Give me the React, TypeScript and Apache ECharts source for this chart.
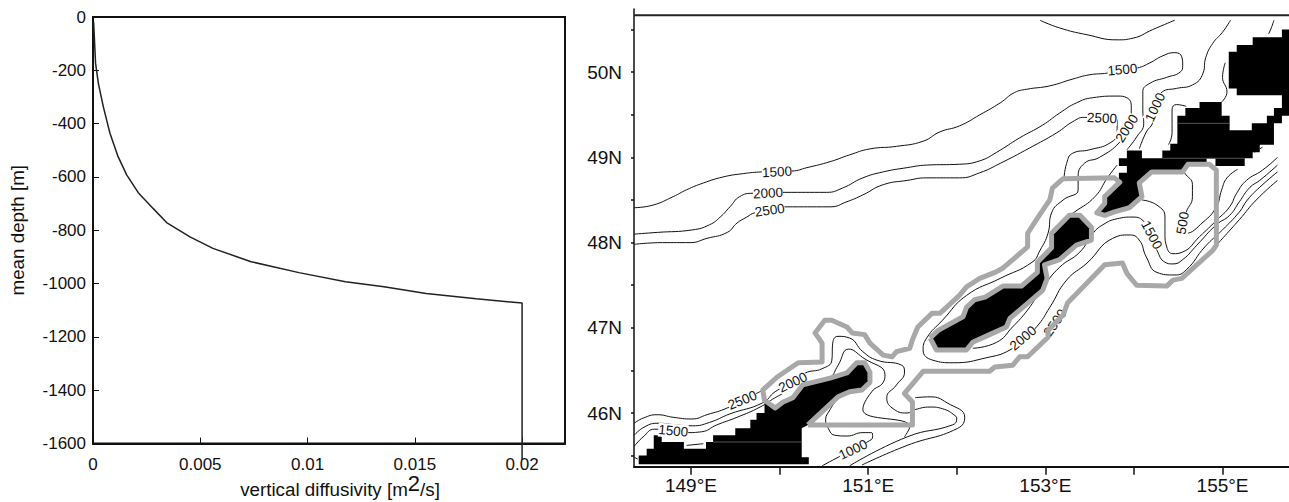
import React, { useEffect, useRef } from "react";
import * as echarts from "echarts";

type P = [number, number];

// Left panel: vertical diffusivity profile [diffusivity, depth]
const diffusivityProfile: P[] = [
  [0.00003, -20], [0.00012, -174], [0.00025, -249], [0.00048, -336], [0.00079, -436], [0.00117, -524],
  [0.00157, -592], [0.00211, -659], [0.0028, -718], [0.00343, -771], [0.00452, -825], [0.00559, -868],
  [0.00737, -918], [0.0096, -959], [0.01177, -993], [0.01356, -1012], [0.01553, -1037], [0.01786, -1057],
  [0.02, -1073], [0.02, -1600], [0.02, -1662],
];
const diffusivityTicks = [0, 0.005, 0.01, 0.015, 0.02];
const depthTicks = [0, -200, -400, -600, -800, -1000, -1200, -1400, -1600];

// Right panel: bathymetric contours [lon, lat]
const contourNorth1500: P[] = [
  [148.36, 48.41], [148.57, 48.44], [148.8, 48.54], [148.95, 48.62], [149.14, 48.7], [149.36, 48.77], [149.59, 48.81],
  [149.8, 48.83], [150.14, 48.84], [150.31, 48.88], [150.57, 48.95], [150.79, 49.03], [151.02, 49.1], [151.32, 49.13],
  [151.62, 49.19], [151.81, 49.3], [152.03, 49.37], [152.26, 49.5], [152.49, 49.64], [152.65, 49.76], [152.79, 49.8],
  [153.05, 49.84], [153.31, 49.92], [153.5, 49.97], [153.7, 49.99], [153.87, 50.03], [154.04, 50.05], [154.18, 50.11],
  [154.32, 50.19], [154.46, 50.23], [154.54, 50.18], [154.55, 50.08], [154.52, 50.0], [154.37, 49.94], [154.18, 49.87],
  [154.1, 49.77], [154.1, 49.56], [154.11, 49.4], [154.03, 49.24], [153.92, 49.09],
];
const contourNeck: P[] = [[153.81, 48.91], [153.7, 48.76], [153.56, 48.54], [153.33, 48.36], [153.25, 48.31]];
const contour2000: P[] = [
  [148.36, 48.1], [148.62, 48.12], [149.02, 48.15], [149.21, 48.21], [149.33, 48.3], [149.44, 48.42], [149.55, 48.54],
  [149.7, 48.58], [150.06, 48.59], [150.53, 48.59], [150.71, 48.64], [150.94, 48.76], [151.17, 48.83], [151.44, 48.88],
  [151.66, 48.91], [152.03, 48.92], [152.26, 48.96], [152.45, 49.06], [152.71, 49.23], [152.97, 49.38], [153.16, 49.52],
  [153.35, 49.64], [153.53, 49.7], [153.81, 49.72], [153.92, 49.7], [153.97, 49.59], [153.93, 49.35], [153.84, 49.18],
  [153.61, 49.0], [153.44, 48.93], [153.37, 48.77], [153.37, 48.62], [153.2, 48.5], [153.07, 48.35], [153.03, 48.11],
  [152.94, 47.91], [152.85, 47.77], [152.49, 47.58], [152.11, 47.38], [151.84, 47.09], [151.66, 46.88], [151.62, 46.74],
  [151.73, 46.62], [151.96, 46.59], [152.34, 46.65], [152.6, 46.74], [152.75, 46.88], [152.9, 47.01], [153.05, 47.24],
  [153.24, 47.56], [153.47, 47.76], [153.76, 48.05], [153.95, 48.09], [154.06, 48.03], [154.14, 47.83], [154.26, 47.65],
  [154.46, 47.62], [154.59, 47.68], [154.8, 47.95], [155.0, 48.15], [155.19, 48.36], [155.28, 48.5], [155.42, 48.65],
  [155.62, 48.83],
];
const contour2500: P[] = [
  [148.36, 47.98], [148.68, 48.0], [148.99, 48.0], [149.18, 48.05], [149.41, 48.12], [149.52, 48.23], [149.63, 48.3],
  [149.72, 48.35], [150.06, 48.42], [150.57, 48.42], [150.76, 48.48], [150.94, 48.56], [151.17, 48.68], [151.44, 48.73],
  [151.66, 48.76], [152.03, 48.76], [152.26, 48.82], [152.49, 48.93], [152.82, 49.11], [153.13, 49.29], [153.31, 49.42],
  [153.44, 49.47], [153.81, 49.44], [153.81, 49.29], [153.73, 49.17], [153.5, 49.09], [153.31, 49.05], [153.24, 48.93],
  [153.21, 48.73],
];
const contourEast2500: P[] = [[155.62, 48.73], [155.38, 48.5], [155.19, 48.27], [154.93, 47.97]];
const contourEast1500: P[] = [
  [155.62, 48.91], [155.42, 48.73], [155.31, 48.65], [155.19, 48.48], [155.08, 48.32], [154.93, 48.21], [154.71, 47.97],
  [154.55, 47.8], [154.44, 47.75], [154.35, 47.77], [154.26, 47.91], [154.2, 48.09], [154.12, 48.24], [153.99, 48.3],
  [153.81, 48.28], [153.65, 48.21], [153.53, 48.1], [153.39, 47.89], [153.16, 47.71], [152.97, 47.47], [152.8, 47.21],
  [152.63, 47.01], [152.45, 46.83], [152.18, 46.76],
];
const contourEast1000: P[] = [
  [155.62, 49.0], [155.45, 48.85], [155.27, 48.73], [155.16, 48.58], [155.08, 48.42], [154.94, 48.27], [154.74, 48.07],
  [154.55, 47.89], [154.44, 47.87], [154.37, 47.95], [154.35, 48.11], [154.35, 48.3], [154.26, 48.44], [154.09, 48.5],
];
const contour500: P[] = [
  [154.52, 48.91], [154.57, 48.82], [154.66, 48.68], [154.66, 48.54], [154.59, 48.36], [154.55, 48.23], [154.59, 48.11],
  [154.78, 48.24], [154.93, 48.42], [154.99, 48.62], [155.05, 48.76], [155.17, 48.86],
];
const contourNorth1000: P[] = [
  [155.09, 50.61], [155.0, 50.47], [154.89, 50.34], [154.81, 50.17], [154.78, 49.99], [154.66, 49.85], [154.48, 49.81],
  [154.32, 49.77], [154.26, 49.59], [154.21, 49.4], [154.14, 49.3], [154.06, 49.1],
];
const contourTopArc: P[] = [[152.94, 50.61], [153.16, 50.52], [153.47, 50.44], [153.81, 50.38], [153.99, 50.4], [154.21, 50.5], [154.46, 50.61]];
const contourTopShort: P[] = [[155.58, 50.61], [155.55, 50.52], [155.52, 50.45]];
const contourBay: P[] = [[155.03, 50.11], [155.0, 49.94], [155.05, 49.77], [154.99, 49.65]];
const contourBlobWest: P[] = [[154.59, 49.6], [154.48, 49.62], [154.43, 49.56], [154.43, 49.29], [154.39, 49.15]];
const contourDash: P[] = [[155.36, 49.06], [155.45, 49.12]];
const contourSouth2500: P[] = [
  [148.36, 45.88], [148.46, 45.94], [148.62, 45.98], [148.8, 45.95], [149.01, 45.93], [149.18, 45.98], [149.41, 46.06],
  [149.74, 46.23], [149.83, 46.28],
];
const contourSouth2000: P[] = [
  [148.36, 45.74], [148.48, 45.84], [148.63, 45.88], [148.84, 45.86], [149.02, 45.85], [149.21, 45.89], [149.44, 45.99],
  [149.81, 46.12], [149.95, 46.25], [150.15, 46.36], [150.29, 46.47], [150.48, 46.52], [150.59, 46.62], [150.6, 46.82],
  [150.66, 46.9], [150.79, 46.88], [150.94, 46.72], [151.1, 46.62], [151.38, 46.56], [151.41, 46.48], [151.32, 46.33],
  [151.21, 46.18], [151.27, 46.06], [151.44, 46.0], [151.53, 46.04], [151.7, 46.07], [151.84, 46.05], [151.98, 45.97],
  [152.0, 45.93], [151.95, 45.86], [151.44, 45.72], [150.79, 45.38],
];
const contourLoopOuter: P[] = [
  [151.53, 46.18], [151.7, 46.19], [151.89, 46.12], [152.09, 45.95], [152.01, 45.82], [151.44, 45.62], [150.93, 45.39],
];
const contourSouth1500: P[] = [
  [148.36, 45.61], [148.46, 45.72], [148.59, 45.81], [148.8, 45.79], [148.95, 45.77], [149.12, 45.78], [149.29, 45.86],
  [149.52, 45.95], [149.78, 46.07], [149.95, 46.18], [150.12, 46.27], [150.26, 46.35], [150.48, 46.38], [150.57, 46.41],
  [150.66, 46.56], [150.78, 46.75], [150.94, 46.65], [151.19, 46.45], [151.17, 46.36], [151.04, 46.25], [150.94, 46.04],
  [151.47, 45.84], [151.41, 45.72],
];
const contourSouth1000: P[] = [
  [150.62, 46.12], [150.57, 46.04], [150.52, 45.92], [150.55, 45.82], [150.62, 45.74], [150.76, 45.73], [150.94, 45.77],
  [151.04, 45.77], [151.05, 45.72], [150.99, 45.66], [150.83, 45.57], [150.66, 45.48], [150.48, 45.38],
];
const contourNotch: P[] = [[148.95, 45.62], [149.14, 45.64]];
const contourLeftStub: P[] = [[148.36, 45.48], [148.4, 45.46]];

// Black seabed cells (land mask) outlines
const landSouth: P[] = [
  [148.41, 45.4], [148.41, 45.5], [148.5, 45.5], [148.5, 45.58], [148.58, 45.58], [148.58, 45.74], [148.67, 45.74],
  [148.67, 45.66], [148.92, 45.66], [148.92, 45.58], [149.17, 45.58], [149.17, 45.66], [149.25, 45.66], [149.25, 45.74],
  [149.5, 45.74], [149.5, 45.82], [149.67, 45.82], [149.67, 45.92], [149.74, 45.92], [149.74, 46.0], [149.83, 46.0],
  [149.83, 46.15], [149.95, 46.06], [150.04, 46.13], [150.15, 46.18], [150.26, 46.33], [150.57, 46.41], [150.76, 46.47],
  [150.87, 46.59], [150.96, 46.59], [151.02, 46.48], [151.02, 46.36], [150.93, 46.27], [150.79, 46.25], [150.66, 46.19],
  [150.32, 45.86], [150.25, 45.82], [150.25, 45.48], [150.33, 45.48], [150.33, 45.4],
];
const landIsland: P[] = [
  [151.7, 46.88], [151.79, 46.97], [152.07, 47.13], [152.11, 47.24], [152.2, 47.33], [152.32, 47.36], [152.52, 47.49],
  [152.73, 47.49], [152.91, 47.65], [152.91, 47.77], [153.07, 47.94], [153.07, 48.11], [153.27, 48.32], [153.39, 48.32],
  [153.52, 48.18], [153.52, 48.03], [153.35, 47.97], [153.16, 47.8], [152.99, 47.74], [153.02, 47.58], [152.97, 47.44],
  [152.6, 47.11], [152.56, 47.01], [152.37, 46.92], [152.18, 46.83], [152.11, 46.74], [151.77, 46.74],
];
const landNorth: P[] = [
  [155.75, 49.58], [155.58, 49.58], [155.58, 49.49], [155.5, 49.49], [155.5, 49.4], [155.33, 49.4], [155.33, 49.32],
  [155.08, 49.32], [155.08, 49.49], [154.99, 49.49], [154.99, 49.65], [154.74, 49.65], [154.74, 49.58], [154.58, 49.58],
  [154.58, 49.49], [154.49, 49.49], [154.49, 49.16], [154.41, 49.16], [154.41, 49.08], [154.32, 49.08], [154.32, 48.99],
  [154.09, 48.99], [154.09, 49.08], [153.92, 49.08], [153.92, 48.99], [153.83, 48.99], [153.83, 48.9], [153.92, 48.9],
  [153.92, 48.82], [153.83, 48.82], [153.83, 48.73], [153.84, 48.71], [153.67, 48.54], [153.67, 48.46], [153.58, 48.35],
  [153.67, 48.32], [153.78, 48.36], [153.95, 48.41], [154.09, 48.54], [154.06, 48.7], [154.2, 48.83], [154.55, 48.83],
  [154.61, 48.92], [154.82, 48.92], [154.82, 48.99], [154.92, 48.99], [154.92, 48.9], [155.25, 48.9], [155.25, 48.99],
  [155.34, 48.99], [155.34, 49.06], [155.42, 49.06], [155.42, 49.15], [155.58, 49.15], [155.58, 49.4], [155.67, 49.4],
  [155.67, 49.49], [155.75, 49.49],
];
const landNorthEast: P[] = [
  [155.75, 50.5], [155.67, 50.5], [155.67, 50.41], [155.34, 50.41], [155.34, 50.32], [155.16, 50.32], [155.16, 50.24],
  [155.07, 50.24], [155.07, 49.81], [155.16, 49.81], [155.16, 49.73], [155.67, 49.73], [155.67, 49.58], [155.75, 49.58],
];
const landSeams: P[][] = [
  [[149.25, 45.66], [150.25, 45.66]],
  [[154.32, 48.99], [155.25, 48.99]],
  [[154.49, 49.4], [155.08, 49.4]],
];

// Grey region outlines
const greyOuter: P[] = [
  [150.32, 45.86], [151.5, 45.86], [151.5, 46.13], [151.41, 46.23], [151.62, 46.49], [152.37, 46.49], [152.43, 46.54],
  [152.63, 46.56], [152.71, 46.66], [152.8, 46.66], [153.03, 46.89], [153.03, 46.97], [153.2, 47.15], [153.25, 47.29],
  [153.67, 47.74], [153.87, 47.76], [153.92, 47.64], [154.03, 47.5], [154.37, 47.49], [154.44, 47.56], [154.54, 47.58],
  [154.89, 47.91], [154.93, 47.97], [154.93, 48.85], [154.85, 48.92], [154.61, 48.92], [154.55, 48.83], [154.2, 48.83],
  [154.06, 48.7], [154.09, 48.54], [153.95, 48.41], [153.78, 48.36], [153.67, 48.32], [153.58, 48.35], [153.67, 48.46],
  [153.67, 48.54], [153.84, 48.71], [153.78, 48.76], [153.2, 48.75], [153.08, 48.64], [153.05, 48.5], [152.99, 48.41],
  [152.9, 48.27], [152.8, 48.11], [152.8, 47.95], [152.52, 47.7], [152.43, 47.65], [152.26, 47.58], [152.11, 47.48],
  [152.03, 47.38], [151.81, 47.17], [151.72, 47.17], [151.56, 47.01], [151.5, 46.86], [151.47, 46.76], [151.32, 46.72],
  [151.27, 46.66], [151.17, 46.68], [151.02, 46.82], [150.96, 46.92], [150.82, 46.94], [150.76, 47.01], [150.59, 47.09],
  [150.51, 47.09], [150.4, 46.94], [150.48, 46.82], [150.48, 46.6], [150.21, 46.59], [149.97, 46.42], [149.81, 46.27],
  [149.83, 46.15], [149.95, 46.06], [150.04, 46.13], [150.15, 46.18], [150.26, 46.33], [150.57, 46.41], [150.76, 46.47],
  [150.87, 46.59], [150.96, 46.59], [151.02, 46.48], [151.02, 46.36], [150.93, 46.27], [150.79, 46.25], [150.66, 46.19],
  [150.32, 45.86],
];
const greyIsland: P[] = [...landIsland, landIsland[0]];

// Contour labels: text, lon, lat, rotation in degrees
const contourLabels: [string, number, number, number][] = [
  ["1500", 149.97, 48.83, 3],
  ["2000", 149.87, 48.58, 3],
  ["2500", 149.89, 48.38, 8],
  ["1500", 153.87, 50.03, 5],
  ["2500", 153.64, 49.46, -3],
  ["2000", 153.92, 49.34, 57],
  ["1000", 154.24, 49.59, 65],
  ["500", 154.55, 48.23, 80],
  ["1500", 154.2, 48.09, -62],
  ["2000", 152.75, 46.88, 40],
  ["2500", 153.11, 47.06, 55],
  ["2500", 149.58, 46.15, 22],
  ["2000", 150.15, 46.36, 25],
  ["1500", 148.8, 45.79, -5],
  ["1000", 150.83, 45.57, 25],
];

const lonTicks = [149, 150, 151, 152, 153, 154, 155];
const lonLabels = [149, 151, 153, 155];
const latTicks = [45.5, 46, 46.5, 47, 47.5, 48, 48.5, 49, 49.5, 50, 50.5];
const latLabels = [46, 47, 48, 49, 50];
const mapTopLat = 50.67;

const lonMin = 148.357;
const lonMax = 155.75;
const contours: P[][] = [
  contourNorth1500, contourNeck, contour2000, contour2500, contourEast2500, contourEast1500, contourEast1000, contour500,
  contourNorth1000, contourTopArc, contourTopShort, contourBay, contourBlobWest, contourDash, contourSouth2500,
  contourSouth2000, contourLoopOuter, contourSouth1500, contourSouth1000, contourNotch, contourLeftStub,
];
const lands: P[][] = [landSouth, landIsland, landNorth, landNorthEast];
const FONT = "Liberation Sans, Arial, sans-serif";

export default function App() {
  const ref = useRef<HTMLDivElement>(null);
  useEffect(() => {
    const chart = echarts.init(ref.current!, undefined, { renderer: "svg" });
    const mapAxes = { xAxisIndex: 1, yAxisIndex: 1 };
    chart.setOption({
      animation: false,
      backgroundColor: "#fff",
      grid: [
        { left: 93, top: 17, width: 472, height: 426.5, outerBoundsMode: "none", show: true, borderColor: "#111", borderWidth: 2, backgroundColor: "transparent" },
        { left: 634, top: 9, right: 0, height: 457.7, outerBoundsMode: "none" },
      ],
      xAxis: [
        {
          type: "value", gridIndex: 0, min: 0, max: 0.022,
          splitLine: { show: false },
          axisLine: { show: true, onZero: false, lineStyle: { color: "#111", width: 2 } },
          axisTick: { inside: true, length: 6, customValues: diffusivityTicks, lineStyle: { color: "#111" } },
          axisLabel: { customValues: diffusivityTicks, margin: 12, fontSize: 17, fontFamily: FONT, color: "#111", formatter: (v: number) => String(v) },
          name: "{base|vertical diffusivity [m}{sup|2}{base|/s]}",
          nameLocation: "middle", nameGap: 29, nameMoveOverlap: false,
          nameTextStyle: {
            fontSize: 18.8, fontFamily: FONT, color: "#111", padding: [0, 0, 0, 22],
            rich: {
              base: { fontSize: 18.8, fontFamily: FONT, color: "#111", lineHeight: 18, verticalAlign: "bottom" },
              sup: { fontSize: 22, fontFamily: FONT, color: "#111", lineHeight: 26, verticalAlign: "top" },
            },
          },
        },
        {
          type: "value", gridIndex: 1, min: lonMin, max: lonMax,
          splitLine: { show: false },
          axisLine: { show: true, onZero: false, lineStyle: { color: "#111", width: 2 } },
          axisTick: { length: 8, customValues: lonTicks, lineStyle: { color: "#111", width: 1.5 } },
          axisLabel: { customValues: lonLabels, margin: 9, fontSize: 19, fontFamily: FONT, color: "#111", formatter: (v: number) => `${v}°E` },
        },
      ],
      yAxis: [
        {
          type: "value", gridIndex: 0, min: -1600, max: 0,
          splitLine: { show: false },
          axisLine: { show: true, onZero: false, lineStyle: { color: "#111", width: 2 } },
          axisTick: { inside: true, length: 6, customValues: depthTicks, lineStyle: { color: "#111" } },
          axisLabel: { customValues: depthTicks, margin: 7, fontSize: 17, fontFamily: FONT, color: "#111", formatter: (v: number) => String(v) },
          name: "mean depth [m]", nameLocation: "middle", nameGap: 66, nameMoveOverlap: false,
          nameTextStyle: { fontSize: 18.8, fontFamily: FONT, color: "#111" },
        },
        {
          type: "value", gridIndex: 1, min: 45.37, max: 50.742,
          splitLine: { show: false },
          axisLine: { show: true, onZero: false, lineStyle: { color: "#111", width: 1.5 } },
          axisTick: { length: 3, customValues: latTicks, lineStyle: { color: "#111", width: 1.5 } },
          axisLabel: { customValues: latLabels, margin: 12, fontSize: 19, fontFamily: FONT, color: "#111", formatter: (v: number) => `${v}N` },
        },
      ],
      series: [
        {
          type: "line", xAxisIndex: 0, yAxisIndex: 0, data: diffusivityProfile, showSymbol: false, clip: false,
          lineStyle: { color: "#222", width: 1.5 }, z: 3,
        },
        ...lands.map((land) => ({
          type: "custom", ...mapAxes, z: 1, clip: true, data: [land[0]],
          renderItem: (_p: any, api: any) => ({
            type: "polygon",
            shape: { points: land.map((pt) => api.coord(pt)) },
            style: { fill: "#000" },
          }),
        })),
        ...landSeams.map((seam) => ({
          type: "line", ...mapAxes, z: 2, data: seam, showSymbol: false, lineStyle: { color: "#555", width: 1 },
        })),
        ...contours.map((c) => ({
          type: "line", ...mapAxes, z: 3, data: c, showSymbol: false, smooth: 0.5, lineStyle: { color: "#111", width: 1 },
        })),
        {
          type: "custom", ...mapAxes, z: 4, data: contourLabels.map((l) => [l[1], l[2]]),
          renderItem: (p: any, api: any) => {
            const l = contourLabels[p.dataIndex];
            const c = api.coord([l[1], l[2]]);
            return {
              type: "text", x: c[0], y: c[1], rotation: (l[3] * Math.PI) / 180,
              style: { text: l[0], font: `13.5px ${FONT}`, fill: "#111", align: "center", verticalAlign: "middle", backgroundColor: "#fff" },
            };
          },
        },
        ...[greyOuter, greyIsland].map((g) => ({
          type: "line", ...mapAxes, z: 5, data: g, showSymbol: false,
          lineStyle: { color: "#a8a8a8", width: 5, join: "round" },
        })),
        {
          type: "line", ...mapAxes, z: 6, showSymbol: false,
          data: [[lonMin, mapTopLat], [lonMax, mapTopLat]],
          lineStyle: { color: "#222", width: 2 },
        },
      ],
    });
    return () => chart.dispose();
  }, []);
  return <div ref={ref} style={{ position: "absolute", left: 0, top: 0, width: 1289, height: 502 }} />;
}
